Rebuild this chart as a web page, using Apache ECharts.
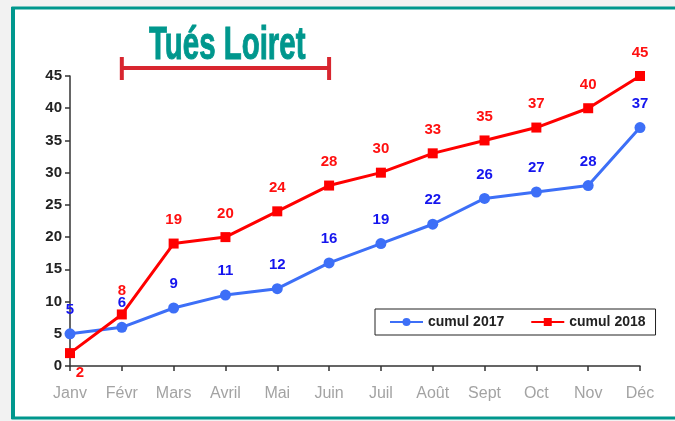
<!DOCTYPE html>
<html>
<head>
<meta charset="utf-8">
<title>Tués Loiret</title>
<script src="https://cdn.jsdelivr.net/npm/echarts@6/dist/echarts.min.js"></script>
<style>
    html, body { margin: 0; padding: 0; background: #f2f2f2; }
    #chart { width: 675px; height: 421px; }
</style>
</head>
<body>
<div id="chart"></div>
<script>
// données
var mois = ["Janv", "Févr", "Mars", "Avril", "Mai", "Juin", "Juil", "Août", "Sept", "Oct", "Nov", "Déc"];
var cumul2017 = [5, 6, 9, 11, 12, 16, 19, 22, 26, 27, 28, 37];
var cumul2018 = [2, 8, 19, 20, 24, 28, 30, 33, 35, 37, 40, 45];
var titre = "Tués Loiret";
var periode = ["Févr", "Juin"]; // accolade rouge sous le titre

(function () {
    var myChart = echarts.init(document.getElementById("chart"));

    // étiquette du premier point 2018 placée en dessous à droite
    var data2018 = cumul2018.map(function (v, i) {
        if (i === 0) {
            return { value: v, label: { position: "bottom", offset: [10, -4] } };
        }
        return v;
    });

    var option = {
        animation: false,
        backgroundColor: "#f2f2f2",
        grid: {
            left: 70,
            right: 35,
            top: 76,
            bottom: 55
        },
        legend: {
            left: 375,
            top: 309,
            backgroundColor: "#fff",
            borderColor: "#222",
            borderWidth: 1,
            borderRadius: 0,
            padding: [6, 10, 6, 14],
            itemGap: 26,
            itemWidth: 33,
            itemHeight: 10,
            textStyle: {
                color: "#222",
                fontWeight: "bold",
                fontSize: 14,
                fontFamily: "Liberation Sans"
            },
            data: ["cumul 2017", "cumul 2018"]
        },
        xAxis: {
            type: "category",
            boundaryGap: false,
            data: mois,
            axisLine: { lineStyle: { color: "#333", width: 1.5 } },
            axisTick: { show: true, length: 5, lineStyle: { color: "#333", width: 1.5 } },
            axisLabel: {
                color: "#a3a3a3",
                fontSize: 16,
                fontFamily: "Liberation Sans Narrow, Liberation Sans",
                margin: 20
            }
        },
        yAxis: {
            type: "value",
            min: 0,
            max: 45,
            interval: 5,
            axisLine: { show: true, lineStyle: { color: "#333", width: 1.5 } },
            axisTick: { show: true, length: 5, lineStyle: { color: "#333", width: 1.5 } },
            axisLabel: {
                color: "#222",
                fontWeight: "bold",
                fontSize: 15,
                fontFamily: "Liberation Sans",
                margin: 8
            },
            splitLine: { show: false }
        },
        series: [
            {
                name: "cumul 2017",
                type: "line",
                data: cumul2017,
                symbol: "circle",
                symbolSize: 11,
                lineStyle: { color: "#3d6ff7", width: 3 },
                itemStyle: { color: "#3d6ff7" },
                label: {
                    show: true,
                    position: "top",
                    distance: 11,
                    color: "#1515ee",
                    fontWeight: "bold",
                    fontSize: 15,
                    fontFamily: "Liberation Sans"
                },
                z: 2
            },
            {
                name: "cumul 2018",
                type: "line",
                data: data2018,
                symbol: "rect",
                symbolSize: 10,
                lineStyle: { color: "#ff0000", width: 3 },
                itemStyle: { color: "#ff0000" },
                label: {
                    show: true,
                    position: "top",
                    distance: 11,
                    color: "#ff1010",
                    fontWeight: "bold",
                    fontSize: 15,
                    fontFamily: "Liberation Sans"
                },
                z: 3
            }
        ]
    };

    myChart.setOption(option);

    // cadre, titre et accolade
    var x1 = myChart.convertToPixel({ xAxisIndex: 0 }, periode[0]);
    var x2 = myChart.convertToPixel({ xAxisIndex: 0 }, periode[1]);
    var teal = "#00978d";
    var rouge = "#d8262f";

    myChart.setOption({
        graphic: [
            {
                type: "rect",
                z: -10,
                silent: true,
                shape: { x: 13, y: 8, width: 700, height: 410 },
                style: { fill: "#fff", stroke: teal, lineWidth: 3 }
            },
            {
                type: "rect",
                z: -9,
                silent: true,
                shape: { x: 11, y: 7, width: 4, height: 412 },
                style: { fill: teal }
            },
            {
                type: "text",
                silent: true,
                x: 149,
                y: 23,
                scaleX: 0.64,
                style: {
                    text: titre,
                    font: "bold 46px 'Liberation Sans'",
                    fill: teal,
                    stroke: teal,
                    lineWidth: 1
                }
            },
            {
                type: "group",
                silent: true,
                children: [
                    {
                        type: "line",
                        shape: { x1: x1, y1: 68, x2: x2, y2: 68 },
                        style: { stroke: rouge, lineWidth: 4 }
                    },
                    {
                        type: "line",
                        shape: { x1: x1, y1: 57, x2: x1, y2: 80 },
                        style: { stroke: rouge, lineWidth: 4 }
                    },
                    {
                        type: "line",
                        shape: { x1: x2, y1: 57, x2: x2, y2: 80 },
                        style: { stroke: rouge, lineWidth: 4 }
                    }
                ]
            }
        ]
    });

    window.addEventListener("resize", function () {
        myChart.resize();
    });
})();
</script>
</body>
</html>
